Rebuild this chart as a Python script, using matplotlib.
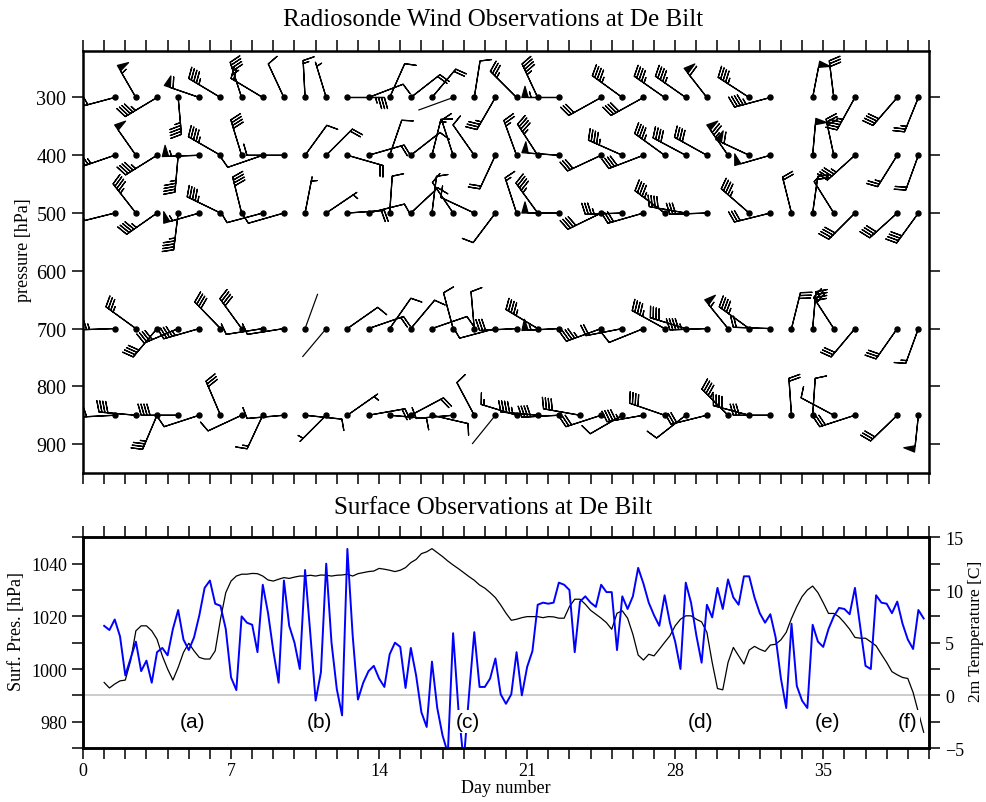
import numpy as np
import matplotlib
matplotlib.use("Agg")
import matplotlib.pyplot as plt
from matplotlib.ticker import MultipleLocator, FixedLocator, NullFormatter

plt.rcParams['font.family'] = ['Liberation Serif', 'DejaVu Serif']

# ---------------- data ----------------
station_days = [1.5, 2.5, 3.5, 4.5, 5.5, 6.5, 7.5, 8.5, 9.5, 10.5,
                11.5, 12.5, 13.5, 14.5, 15.5, 16.5, 17.5, 18.5, 19.5, 20.5,
                21.5, 22.5, 23.5, 24.5, 25.5, 26.5, 27.5, 28.5, 29.5, 30.5,
                31.5, 32.5, 33.5, 34.5, 35.5, 36.5, 37.5, 38.5, 39.5]
levels = [300, 400, 500, 700, 850]
N = None
# wind direction (deg, from) and speed (knots) per level
dir300 = [255, 330, 239, 175, 289, 301, 342, 301, 335, 357, 343, 90, 69, 24, 52, 40, 250, 9, 210, 315,
          335, 270, N, 241, 306, 241, 305, 305, 322, N, 303, 255, N, 11, 353, 209, N, 221, 202]
spd300 = [60, 55, 45, 45, 60, 45, 45, 20, 10, 15, 5, 35, 10, 10, 20, 20, 0, 10, 35, 35,
          45, 55, N, 30, 45, 40, 45, 45, 60, N, 45, 45, N, 50, 30, 45, N, 40, 25]
dir400 = [251, 325, 238, 185, 268, 300, 343, 251, 270, 36, 45, 106, 74, 19, 52, 14, 342, 325, 205, 340,
          327, 274, N, 245, 294, 249, 306, 298, 299, 325, 295, 254, N, 5, 348, 228, N, 212, 200]
spd400 = [45, 50, 45, 45, 55, 45, 40, 10, 10, 10, 20, 20, 20, 10, 10, 15, 10, 10, 20, 25,
          45, 50, N, 30, 45, 40, 45, 40, 40, 75, 60, 50, N, 50, 30, 45, N, 25, 20]
dir500 = [256, 322, 235, 187, 254, 296, 346, 255, 254, 11, 56, 86, 76, 4, 47, 7, 326, 295, 217, 342,
          324, 270, N, 244, 268, 254, 307, 280, 268, N, 311, 256, 346, 8, 328, 225, N, 228, 216]
spd500 = [50, 45, 45, 45, 55, 45, 40, 10, 10, 5, 5, 20, 10, 10, 10, 10, 10, 10, 10, 15,
          45, 50, N, 40, 35, 30, 45, 40, 30, N, 45, 30, 20, 20, 10, 40, N, 40, 40]
dir700 = [268, 306, 220, 247, 254, 316, 324, 261, 261, 20, 220, 55, 71, 35, 40, 71, 345, 355, 255, 267,
          301, 267, N, 250, 259, 248, 299, 287, 268, 321, 306, 272, 14, 5, 327, 220, N, 215, 200]
spd700 = [45, 35, 40, 40, 45, 40, 40, 10, 10, 0, 0, 10, 20, 10, 10, 10, 10, 10, 10, 30,
          45, 55, N, 45, 20, 10, 45, 40, 45, 55, 45, 20, 30, 40, 30, 30, N, 30, 15]
dir850 = [267, 275, 203, 270, 252, 337, 245, 205, 265, 96, 225, 55, 80, 95, 62, 103, 265, 332, 219, 287,
          275, 267, 280, 252, 240, 260, 289, 232, 256, 315, 285, 270, 356, 4, 298, 252, N, 226, 186]
spd850 = [40, 40, 35, 40, 10, 30, 10, 15, 10, 10, 5, 5, 20, 10, 20, 10, 10, 10, 0, 15,
          45, 40, 40, 30, 10, 45, 40, 10, 30, 45, 40, 30, 20, 10, 10, 30, N, 30, 50]

# surface observations, 6-hourly starting day 1.0
sfc_pres = [994.9, 992.8, 994.3, 995.5, 995.8, 1003.1, 1014.5, 1016.4, 1016.4, 1014.5,
            1011.3, 1005.0, 1000.0, 995.8, 1000.6, 1006.3, 1009.8, 1006.9, 1004.4, 1003.8,
            1003.8, 1006.9, 1018.9, 1029.0, 1033.4, 1035.3, 1036.0, 1036.0, 1036.3, 1036.2,
            1035.3, 1033.8, 1033.4, 1034.1, 1034.7, 1034.4, 1034.9, 1035.3, 1035.3, 1035.6,
            1035.3, 1035.7, 1035.6,
            1035.3, 1035.6, 1035.7, 1036.0, 1035.3, 1036.2, 1036.6, 1037.0, 1037.2, 1038.2,
            1037.9, 1037.5, 1037.0, 1037.5, 1038.5, 1040.4, 1041.6, 1043.8, 1044.5, 1045.7,
            1044.2, 1042.7, 1041.0, 1039.5, 1038.1, 1036.6, 1035.1, 1033.7, 1031.9, 1030.7,
            1029.0, 1027.1, 1024.3, 1021.2, 1018.5, 1018.9, 1019.5, 1019.9, 1019.9, 1019.9,
            1019.5, 1019.9, 1019.8, 1019.3, 1019.3, 1023.7, 1026.5, 1026.5, 1024.6, 1022.3,
            1020.8, 1019.3, 1017.6, 1015.1, 1021.2, 1022.1, 1019.3, 1013.2, 1005.3, 1003.4,
            1005.6,
            1005.0, 1007.5, 1010.1, 1012.6, 1016.4, 1018.9, 1020.2, 1020.2, 1018.9, 1017.9,
            1013.9, 1002.5, 992.6, 992.1, 1002.5, 1008.2, 1005.0, 1001.9, 1007.2, 1008.6,
            1007.5, 1006.7, 1009.1, 1009.4, 1011.1, 1013.9, 1019.2, 1023.7, 1027.5, 1030.0,
            1031.5, 1029.0, 1025.2, 1021.1, 1021.1, 1019.8, 1017.6, 1015.1, 1012.0, 1011.7,
            1011.7, 1010.3, 1008.8, 1005.6, 1002.5, 999.0, 997.8, 996.8, 996.4, 991.1,
            983.5, 976.0]
t2m = [6.6, 6.2, 7.2, 5.6, 1.9, 3.5, 5.1, 2.3, 3.3, 1.2,
       4.1, 4.5, 3.8, 6.3, 8.1, 5.3, 4.3, 5.5, 7.6, 10.2,
       10.9, 8.7, 8.5, 6.3, 1.7, 0.5, 7.5, 6.9, 6.7, 4.1,
       10.5, 7.8, 4.2, 1.2, 10.9, 6.6, 5.0, 2.5, 11.9, 5.8,
       -0.5, 2.2, 12.5,
       5.0, 0.6, -1.9, 13.9, 5.7, -0.4, 1.2, 2.3, 2.8, 1.6,
       0.8, 3.9, 5.0, 4.6, 0.7, 4.5, 1.9, -1.6, -3.0, 3.2,
       -1.2, -3.8, -5.5, 5.9, -1.3, -6.3, 0.0, 6.0, 0.8, 0.8,
       1.6, 3.5, 0.1, -0.8, 0.1, 4.1, 0.0, 2.7, 4.2, 8.6,
       8.8, 8.7, 8.8, 10.7, 10.5, 10.0, 4.1, 8.9, 9.4, 8.8,
       8.4, 10.5, 9.8, 9.8, 4.3, 9.4, 8.2, 9.4, 12.1, 10.6,
       8.8,
       7.6, 6.6, 9.5, 6.9, 5.1, 2.5, 10.7, 8.8, 5.7, 3.1,
       8.6, 7.4, 10.2, 8.2, 11.0, 9.3, 8.6, 11.3, 11.3, 9.3,
       7.8, 6.9, 7.7, 5.5, 1.6, -1.2, 6.8, 0.9, -0.5, -1.2,
       6.7, 5.1, 4.6, 6.3, 7.5, 8.3, 8.2, 7.7, 10.2, 6.5,
       2.8, 2.5, 9.5, 8.8, 8.7, 7.8, 8.9, 6.8, 5.3, 4.4,
       8.1, 7.3]
first_obs_day = 1.0
obs_step = 0.25

event_labels = ['(a)', '(b)', '(c)', '(d)', '(e)', '(f)']
event_days = [5.2, 11.2, 18.2, 29.2, 35.2, 39.0]
event_pres = 980

# ---------------- figure ----------------
fig = plt.figure(figsize=(9.87, 8.03), dpi=100)
ax1 = fig.add_axes([0.0841, 0.4097, 0.8571, 0.5252])
ax2 = fig.add_axes([0.0841, 0.0672, 0.8571, 0.2624])

# ---- wind barbs ----
dirs = [dir300, dir400, dir500, dir700, dir850]
spds = [spd300, spd400, spd500, spd700, spd850]
xs_all = np.array(station_days, float)
for lev, dd, ss in zip(levels, dirs, spds):
    d = np.array([np.nan if v is None else v for v in dd], float)
    s = np.array([np.nan if v is None else v for v in ss], float)
    ok = ~np.isnan(s)
    x = xs_all[ok]
    y = np.full(x.size, float(lev))
    rad = np.deg2rad(d[ok])
    sp = s[ok]
    u = -sp * np.sin(rad)
    v = -sp * np.cos(rad)
    calm = sp < 2.5
    ax1.barbs(x[~calm], y[~calm], u[~calm], v[~calm], length=7.3,
              sizes=dict(spacing=0.08, height=0.3, width=0.17),
              linewidth=0.9, color='black', zorder=3)
    if calm.any():
        ax1.quiver(x[calm], y[calm], np.sin(rad[calm]) * 37, np.cos(rad[calm]) * 37,
                   angles='uv', scale_units='dots', scale=1, units='dots',
                   width=1.2, headwidth=0, headlength=0, headaxislength=0,
                   pivot='tail', color='black', zorder=3)
    ax1.plot(x, y, 'o', color='black', ms=3.6, zorder=4)

ax1.set_xlim(0, 40)
ax1.set_ylim(950, 220)
ax1.xaxis.set_major_locator(MultipleLocator(1))
ax1.xaxis.set_major_formatter(NullFormatter())
ax1.yaxis.set_major_locator(FixedLocator([300, 400, 500, 600, 700, 800, 900]))
ax1.tick_params(axis='both', which='both', direction='out', length=8, width=1.1,
                top=True, right=True, labelsize=14.5)
ax1.tick_params(axis='y', pad=4)
ax1.set_ylabel('pressure [hPa]', fontsize=13)
ax1.yaxis.set_label_coords(-0.06, 0.53)
for sp_ in ax1.spines.values():
    sp_.set_linewidth(1.8)

# ---- surface observations ----
obs_days_p = first_obs_day + obs_step * np.arange(len(sfc_pres))
obs_days_t = first_obs_day + obs_step * np.arange(len(t2m))
ax2.axhline(990, color='#c4c4c4', lw=1.2, zorder=1)
ax2.plot(obs_days_p, sfc_pres, color='black', lw=0.9, zorder=2)
ax2.set_xlim(0, 40)
ax2.set_ylim(970, 1050)
ax2.xaxis.set_major_locator(FixedLocator([0, 7, 14, 21, 28, 35]))
ax2.xaxis.set_minor_locator(MultipleLocator(1))
ax2.yaxis.set_major_locator(FixedLocator([980, 1000, 1020, 1040]))
ax2.yaxis.set_minor_locator(MultipleLocator(10))
ax2.tick_params(axis='both', which='both', direction='out', length=8, width=1.1,
                top=True, labelsize=13)
ax2.tick_params(axis='x', pad=2)
ax2.set_ylabel('Surf. Pres. [hPa]', fontsize=13)
ax2.yaxis.set_label_coords(-0.068, 0.56)
ax2.set_xlabel('Day number', fontsize=13, labelpad=0)

ax3 = ax2.twinx()
ax3.plot(obs_days_t, t2m, color='#0000ff', lw=1.4, zorder=2)
ax3.set_ylim(-5, 15)
ax3.yaxis.set_major_locator(FixedLocator([-5, 0, 5, 10, 15]))
ax3.yaxis.set_minor_locator(MultipleLocator(2.5))
ax3.tick_params(axis='y', which='both', direction='out', length=8, width=1.1, labelsize=13)
ax3.set_ylabel('2m Temperature [C]', fontsize=12.5)
ax3.yaxis.set_label_coords(1.046, 0.56)
for a in (ax2, ax3):
    for sp_ in a.spines.values():
        sp_.set_linewidth(1.8)

for lab, dday in zip(event_labels, event_days):
    ax3.text(dday, (event_pres - 990) / 4.0, lab, ha='center', va='center',
             fontsize=15, family=['Liberation Sans', 'DejaVu Sans'], zorder=6,
             bbox=dict(facecolor='white', edgecolor='none', pad=1.5))

fig.text(0.5, 0.975, 'Radiosonde Wind Observations at De Bilt', ha='center', va='center', fontsize=18)
fig.text(0.5, 0.367, 'Surface Observations at De Bilt', ha='center', va='center', fontsize=18)

fig.savefig('out.png', dpi=100)
